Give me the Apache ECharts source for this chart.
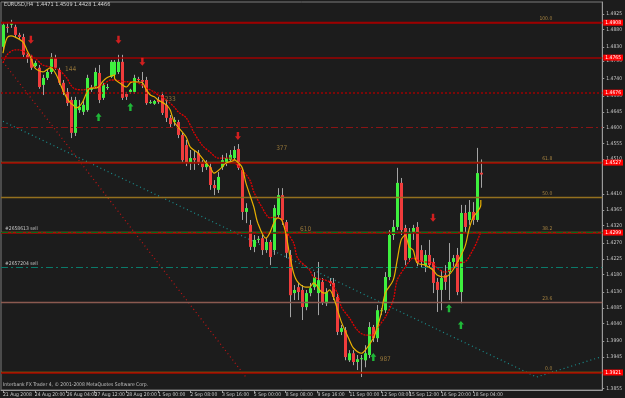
<!DOCTYPE html>
<html><head><meta charset="utf-8">
<script src="https://cdn.jsdelivr.net/npm/echarts@6/dist/echarts.min.js"></script>
<style>html,body{margin:0;padding:0;background:#1c1c1c;}#c{width:625px;height:398px;}</style>
</head><body><div id="c"></div>
<script>
// ---- data (EURUSD H4) ----
const opens  = [1.4831,1.4888,1.4894,1.4888,1.4865,1.4859,1.4808,1.4802,1.4776,1.4771,1.4722,1.4742,1.4759,1.4799,1.4765,1.4728,1.4702,1.4679,1.4585,1.4650,1.4645,1.4650,1.4708,1.4716,1.4756,1.4685,1.4713,1.4745,1.4751,1.4759,1.4788,1.4696,1.4702,1.4702,1.4739,1.4736,1.4736,1.4670,1.4668,1.4679,1.4693,1.4665,1.4628,1.4616,1.4616,1.4579,1.4550,1.4499,1.4513,1.4527,1.4502,1.4487,1.4487,1.4436,1.4422,1.4487,1.4499,1.4507,1.4513,1.4539,1.4479,1.4359,1.4322,1.4259,1.4279,1.4284,1.4250,1.4273,1.4250,1.4350,1.4407,1.4330,1.4236,1.4127,1.4144,1.4136,1.4087,1.4127,1.4144,1.4127,1.4159,1.4098,1.4161,1.4156,1.4116,1.4016,1.4021,1.3935,1.3955,1.3930,1.3938,1.3935,1.3950,1.4030,1.3998,1.4076,1.4078,1.4173,1.4293,1.4316,1.4442,1.4313,1.4227,1.4302,1.4316,1.4250,1.4207,1.4236,1.4216,1.4159,1.4136,1.4179,1.4187,1.4216,1.4236,1.4130,1.4356,1.4336,1.4359,1.4336,1.4471];
const closes = [1.4894,1.4885,1.4899,1.4865,1.4859,1.4808,1.4799,1.4771,1.4785,1.4716,1.4742,1.4759,1.4802,1.4771,1.4728,1.4702,1.4670,1.4585,1.4679,1.4659,1.4665,1.4742,1.4713,1.4759,1.4679,1.4722,1.4716,1.4788,1.4788,1.4788,1.4685,1.4688,1.4708,1.4742,1.4736,1.4731,1.4670,1.4673,1.4676,1.4673,1.4642,1.4628,1.4610,1.4622,1.4579,1.4507,1.4499,1.4513,1.4507,1.4502,1.4487,1.4499,1.4436,1.4427,1.4459,1.4507,1.4513,1.4522,1.4536,1.4485,1.4359,1.4370,1.4259,1.4279,1.4282,1.4250,1.4273,1.4230,1.4370,1.4407,1.4336,1.4242,1.4121,1.4136,1.4130,1.4087,1.4127,1.4141,1.4173,1.4164,1.4101,1.4130,1.4156,1.4116,1.4016,1.4027,1.3944,1.3955,1.3930,1.3938,1.3941,1.3955,1.4030,1.3998,1.4078,1.4078,1.4173,1.4293,1.4316,1.4442,1.4307,1.4221,1.4302,1.4313,1.4213,1.4216,1.4236,1.4207,1.4156,1.4136,1.4170,1.4159,1.4216,1.4227,1.4130,1.4356,1.4316,1.4359,1.4336,1.4470,1.4466];
const highs  = [1.4902,1.4902,1.4908,1.4894,1.4871,1.4868,1.4813,1.4808,1.4791,1.4779,1.4751,1.4765,1.4813,1.4808,1.4771,1.4736,1.4713,1.4688,1.4688,1.4679,1.4679,1.4751,1.4722,1.4771,1.4779,1.4728,1.4725,1.4793,1.4793,1.4808,1.4808,1.4702,1.4711,1.4751,1.4745,1.4759,1.4745,1.4679,1.4679,1.4688,1.4702,1.4679,1.4636,1.4630,1.4622,1.4585,1.4565,1.4536,1.4536,1.4536,1.4507,1.4507,1.4499,1.4450,1.4473,1.4522,1.4527,1.4536,1.4547,1.4553,1.4485,1.4384,1.4336,1.4293,1.4290,1.4293,1.4284,1.4279,1.4379,1.4427,1.4427,1.4336,1.4250,1.4150,1.4156,1.4150,1.4136,1.4156,1.4187,1.4216,1.4170,1.4141,1.4170,1.4170,1.4127,1.4036,1.4030,1.3964,1.3964,1.3950,1.3950,1.3978,1.4044,1.4036,1.4093,1.4084,1.4187,1.4307,1.4336,1.4485,1.4456,1.4322,1.4313,1.4322,1.4330,1.4264,1.4250,1.4279,1.4227,1.4170,1.4193,1.4207,1.4270,1.4236,1.4256,1.4379,1.4379,1.4393,1.4387,1.4542,1.4509];
const lows   = [1.4822,1.4871,1.4885,1.4859,1.4853,1.4802,1.4785,1.4765,1.4773,1.4711,1.4693,1.4736,1.4753,1.4765,1.4722,1.4693,1.4662,1.4570,1.4576,1.4642,1.4636,1.4645,1.4702,1.4713,1.4670,1.4679,1.4708,1.4742,1.4745,1.4753,1.4679,1.4679,1.4696,1.4696,1.4731,1.4713,1.4665,1.4668,1.4665,1.4668,1.4636,1.4616,1.4599,1.4605,1.4570,1.4502,1.4490,1.4479,1.4479,1.4493,1.4473,1.4479,1.4422,1.4407,1.4413,1.4479,1.4490,1.4502,1.4507,1.4479,1.4336,1.4327,1.4250,1.4244,1.4270,1.4236,1.4242,1.4207,1.4236,1.4342,1.4322,1.4227,1.4058,1.4107,1.4107,1.4050,1.4078,1.4118,1.4136,1.4064,1.4093,1.4090,1.4147,1.4107,1.4007,1.4007,1.3935,1.3930,1.3921,1.3907,1.3887,1.3915,1.3941,1.3987,1.3987,1.4064,1.4070,1.4164,1.4279,1.4307,1.4293,1.4207,1.4216,1.4279,1.4204,1.4199,1.4187,1.4199,1.4127,1.4073,1.4078,1.4136,1.4107,1.4199,1.4121,1.4098,1.4302,1.4322,1.4322,1.4330,1.4428];

// moving averages read at sample bars [bar, price]
const fastMA = [[0,1.4813],[1,1.4856],[2,1.4862],[3.4,1.4859],[4.7,1.4845],[6,1.4822],[7.2,1.4799],[8.4,1.4771],[9.7,1.4759],[11,1.4765],[11.75,1.4771],[12.6,1.4759],[13.8,1.4736],[15,1.4708],[16,1.4685],[16.75,1.4670],[17.6,1.4659],[18.4,1.4656],[19.25,1.4659],[20,1.4673],[21,1.4699],[21.75,1.4713],[23,1.4713],[24.25,1.4716],[25,1.4731],[26.3,1.4742],[27.6,1.4751],[28.4,1.4742],[29.7,1.4722],[31,1.4716],[32.2,1.4728],[33.4,1.4731],[34.7,1.4728],[35.5,1.4708],[36.75,1.4693],[38,1.4688],[39.25,1.4679],[40.5,1.4665],[41.75,1.4650],[43.4,1.4616],[45.5,1.4573],[47.2,1.4545],[49.25,1.4527],[51,1.4499],[51.75,1.4487],[53.4,1.4470],[54.7,1.4487],[56,1.4499],[57.6,1.4507],[58.4,1.4510],[59.7,1.4487],[61,1.4442],[62.6,1.4373],[64.25,1.4327],[65.9,1.4284],[67.2,1.4299],[68.4,1.4327],[69.25,1.4342],[70,1.4336],[71.3,1.4299],[72.3,1.4236],[73.25,1.4184],[74.25,1.4159],[75.5,1.4144],[76.75,1.4144],[78.4,1.4156],[79.7,1.4130],[81,1.4127],[82.2,1.4136],[83.4,1.4116],[85,1.4044],[86.75,1.3993],[88.4,1.3970],[90,1.3955],[91.3,1.3964],[92.6,1.3998],[93.8,1.4030],[95,1.4070],[96.3,1.4127],[97.6,1.4164],[98.5,1.4221],[99.5,1.4279],[100.5,1.4293],[101.75,1.4259],[103,1.4250],[104.25,1.4213],[106,1.4207],[107.6,1.4193],[109.25,1.4179],[110.5,1.4173],[111.75,1.4179],[113,1.4193],[114.25,1.4213],[115.9,1.4259],[117.2,1.4307],[118.4,1.4342],[119.7,1.4379],[120,1.4393]];
const slowMA = [[0,1.4785],[0.5,1.4808],[2.6,1.4822],[4.25,1.4822],[6,1.4813],[7.6,1.4799],[9.7,1.4779],[11.75,1.4773],[13.8,1.4765],[16,1.4742],[17.2,1.4722],[18.4,1.4711],[20,1.4708],[21.75,1.4713],[23.4,1.4716],[25,1.4722],[26.75,1.4736],[28.4,1.4736],[30.5,1.4731],[32.6,1.4731],[34.25,1.4728],[36,1.4713],[37.6,1.4702],[39.25,1.4693],[41,1.4679],[42.6,1.4659],[44.25,1.4645],[45.5,1.4628],[47.5,1.4585],[50,1.4550],[51.75,1.4530],[54.25,1.4513],[56.75,1.4513],[58.4,1.4502],[60,1.4479],[61.75,1.4450],[63.4,1.4416],[65,1.4373],[66.75,1.4342],[68.4,1.4344],[69.7,1.4336],[71.3,1.4307],[73,1.4270],[74.25,1.4227],[76.75,1.4193],[78.4,1.4173],[80.5,1.4164],[82.2,1.4159],[83.8,1.4127],[85,1.4087],[86.75,1.4056],[88.8,1.4021],[90.9,1.4007],[92.6,1.4007],[94.25,1.4027],[96,1.4058],[97.6,1.4107],[99.25,1.4164],[100.9,1.4201],[102.5,1.4227],[104.25,1.4221],[106,1.4216],[107.6,1.4213],[109.25,1.4199],[111,1.4187],[112.6,1.4199],[114.25,1.4213],[115.5,1.4216],[117.5,1.4250],[118.75,1.4273],[120,1.4302]];

const sellArrows = [[7,1.4851],[29,1.4851],[35,1.4788],[59,1.4576],[108,1.4342]];
const buyArrows  = [[24,1.4630],[32,1.4659],[93,1.3944],[112,1.4084],[115,1.4036]];

const priceTicks = [1.4925,1.4880,1.4830,1.4790,1.4740,1.4690,1.4645,1.4600,1.4555,1.4510,1.4410,1.4365,1.4320,1.4270,1.4225,1.4180,1.4130,1.4085,1.4040,1.3990,1.3945,1.3855];
const timeLabels = ['21 Aug 2008','24 Aug 20:00','26 Aug 04:00','27 Aug 12:00','28 Aug 20:00','1 Sep 00:00','2 Sep 08:00','3 Sep 16:00','5 Sep 00:00','8 Sep 08:00','9 Sep 16:00','11 Sep 00:00','12 Sep 08:00','15 Sep 12:00','16 Sep 20:00','18 Sep 04:00'];
const timeLabelBars = [0,8,16,23,31,39,47,55,63,71,79,87,95,102,110,118];

const fibPrices = [1.4908,1.4514,1.4396,1.4273,1.4124,1.3884];
const fibNames  = ['100.0','61.8','50.0','38.2','23.6','0.0'];
const redLevels = [1.4908,1.4765,1.4676,1.4527,1.4299,1.3921];
const pendingLevel = 1.4556;
const orderLevels = [1.4307,1.4176];
const orderNames  = ['#2658613 sell','#2657204 sell'];
const fibTimeText = ['144','233','377','610','987'];
const fibTimeBars = [17,41.75,69.5,75.5,96.25];
const fibTimePrices = [1.4768,1.4682,1.4542,1.4310,1.3938];
const trendTeal = [[0,1.4618],[134,1.3887],[150,1.3944]];
const trendRed  = [[0,1.4788],[61,1.3887]];
const lastPrice = 1.4466;
const titleText = 'EURUSD,H4  1.4471 1.4509 1.4428 1.4466';
const footerText = 'Interbank FX Trader 4, \u00a9 2001-2008 MetaQuotes Software Corp.';
const NBARS = 151;

// ---- build ----
const labelMap = {};
timeLabelBars.forEach((b,i)=>{ labelMap[b] = timeLabels[i]; });
const categories = Array.from({length:NBARS},(_,k)=> labelMap[k] || '');
const candleData = opens.map((o,k)=>[k,o,closes[k],lows[k],highs[k]]);
const FONT = '"DejaVu Sans Condensed","Liberation Sans Narrow","Liberation Sans",sans-serif';

const redStyle = (t)=>({color:'#9c0000', width:1.5, type:t});
const markData = [];
fibPrices.forEach((p,i)=>{
  const col = i===0 ? '#9c0000' : (i===4 ? '#8a5a50' : (i===5 ? '#b47800' : '#94701e'));
  markData.push({yAxis:p, lineStyle:{color:col, width:1.3, type:'solid'},
    label:{show:true, position:'insideEndTop', formatter:fibNames[i], color:'#a88440', fontSize:5, fontFamily:FONT, distance:[50,1]}});
});
redLevels.forEach((p,i)=>{
  markData.push({yAxis:p, lineStyle:redStyle(i===2?[2,2]:'solid'),
    label:{show:true, position:'end', formatter:p.toFixed(4), color:'#ffffff', backgroundColor:'#ff0000', padding:[1,2,0,2], fontSize:5, fontFamily:FONT, distance:1}});
});
markData.push({yAxis:pendingLevel, lineStyle:{color:'#8a1414', width:1, type:[7,3,2,3]}, label:{show:false}});
orderLevels.forEach((p,i)=>{
  markData.push({yAxis:p, lineStyle:{color: i===0?'#0a6a1a':'#0a7a6a', width:1, type:[7,3,2,3]},
    label:{show:true, position:'insideStartTop', formatter:orderNames[i], color:'#c8c8c8', fontSize:5, fontFamily:FONT, distance:[4,1]}});
});
markData.push({yAxis:lastPrice, lineStyle:{opacity:0},
  label:{show:true, position:'end', formatter:lastPrice.toFixed(4), color:'#000000', backgroundColor:'#ffffff', padding:[1,2,0,2], fontSize:5, fontFamily:FONT, distance:1}});

const downArrow = 'path://M3,0 L7,0 L7,6 L10,6 L5,11 L0,6 L3,6 Z';
const upArrow   = 'path://M5,0 L10,5 L7,5 L7,11 L3,11 L3,5 L0,5 Z';

const chart = echarts.init(document.getElementById('c'), null, {renderer:'canvas'});
chart.setOption({
  backgroundColor:'#1c1c1c',
  animation:false,
  grid:{left:1, right:19, top:2, bottom:8, show:true, borderColor:'#7a7a7a', borderWidth:1},
  xAxis:{type:'category', data:categories, boundaryGap:true,
    axisLine:{show:true, lineStyle:{color:'#9a9a9a', width:1}},
    axisTick:{show:true, alignWithLabel:true, length:3, interval:(i,v)=>v!=='', lineStyle:{color:'#9a9a9a'}},
    axisLabel:{show:true, interval:(i,v)=>v!=='', align:'left', color:'#c8c8c8', fontSize:5, fontFamily:FONT, margin:2},
    splitLine:{show:false}},
  yAxis:{type:'value', position:'right', min:1.3850, max:1.4959, scale:true,
    axisLine:{show:true, lineStyle:{color:'#9a9a9a', width:1}},
    axisTick:{show:true, length:2, customValues:priceTicks, lineStyle:{color:'#9a9a9a'}},
    axisLabel:{show:true, customValues:priceTicks, formatter:v=>v.toFixed(4), color:'#c8c8c8', fontSize:5, fontFamily:FONT, margin:4},
    splitLine:{show:false}},
  graphic:[
    {type:'text', left:4, top:2, style:{text:titleText, fill:'#d8d8d8', font:'5.5px '+FONT}},
    {type:'text', left:3, top:382, style:{text:footerText, fill:'#c0c0c0', font:'5px '+FONT}}
  ],
  series:[
    {type:'line', data:trendTeal, symbol:'none', silent:true, lineStyle:{color:'#1a9090', width:1.2, type:[1,3]}, z:1},
    {type:'line', data:trendRed, symbol:'none', silent:true, lineStyle:{color:'#c01414', width:1.2, type:[1,3]}, z:1},
    {type:'custom', z:3, data:candleData, encode:{x:0, y:[1,2,3,4]},
      renderItem:(params, api)=>{
        const k=api.value(0), o=api.value(1), c=api.value(2), l=api.value(3), h=api.value(4);
        const pH=api.coord([k,h]), pL=api.coord([k,l]), pO=api.coord([k,o]), pC=api.coord([k,c]);
        const bull = c>=o;
        const top=Math.min(pO[1],pC[1]), bot=Math.max(pO[1],pC[1]);
        const x=Math.round(pH[0]);
        return {type:'group', children:[
          {type:'line', shape:{x1:x+0.5,y1:pH[1],x2:x+0.5,y2:pL[1]}, style:{stroke:'#a4a4a4', lineWidth:1}},
          {type:'rect', shape:{x:x-1, y:top, width:3, height:Math.max(bot-top,1)}, style:{fill: bull?'#3ef03e':'#f03c3c'}}
        ]};
      }},
    {type:'line', data:slowMA, symbol:'none', smooth:0.3, lineStyle:{color:'#e00000', width:1.3, type:[2,1]}, z:4,
      markLine:{silent:true, symbol:'none', data:markData}},
    {type:'line', data:fastMA, symbol:'none', smooth:0.3, lineStyle:{color:'#e8b000', width:1.2}, z:5},
    {type:'scatter', data:sellArrows, symbol:downArrow, symbolSize:[6,8], itemStyle:{color:'#ff2020'}, z:6},
    {type:'scatter', data:buyArrows, symbol:upArrow, symbolSize:[6,8], itemStyle:{color:'#20e040'}, z:6},
    {type:'scatter', data:fibTimeText.map((t,i)=>[fibTimeBars[i], fibTimePrices[i], t]), symbolSize:0, z:6,
      label:{show:true, position:'inside', formatter:p=>p.value[2], color:'#b08a40', fontSize:6.5, fontFamily:FONT}}
  ]
});
</script></body></html>
